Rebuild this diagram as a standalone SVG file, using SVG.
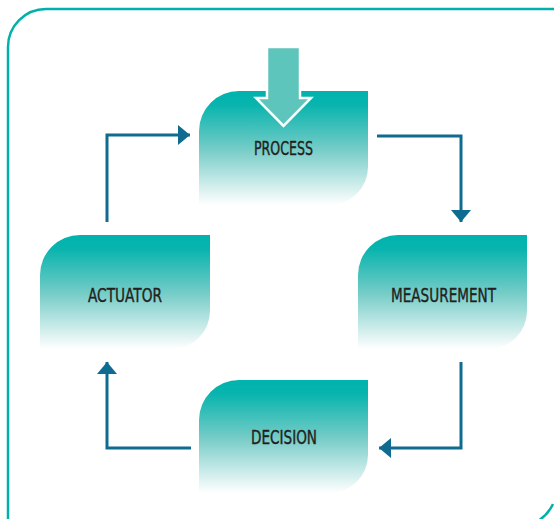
<svg xmlns="http://www.w3.org/2000/svg" width="554" height="519" viewBox="0 0 554 519">
<defs>
<linearGradient id="g" x1="0" y1="0" x2="0" y2="1">
<stop offset="0" stop-color="#00b3ad"/>
<stop offset="0.12" stop-color="#08b4ae"/>
<stop offset="0.5" stop-color="#72cbc6"/>
<stop offset="1" stop-color="#ffffff"/>
</linearGradient>
<marker id="ah" viewBox="0 0 12 20" refX="12" refY="10" markerWidth="12" markerHeight="20" markerUnits="userSpaceOnUse" orient="auto">
<path d="M0,0 L12,10 L0,20 Z" fill="#0f6c90"/>
</marker>
<style>
.node{fill:url(#g);}
.lbl{font-family:"Liberation Sans Narrow","DejaVu Sans Condensed","Liberation Sans",sans-serif;font-size:20px;fill:#231f20;stroke:#231f20;stroke-width:0.4;text-anchor:middle;}
.conn{fill:none;stroke:#0f6c90;stroke-width:3;marker-end:url(#ah);}
</style>
</defs>
<path d="M8,520 V47 A38,38 0 0 1 46,9 H556" fill="none" stroke="#00b0aa" stroke-width="2.5"/>
<path d="M553,504 A40,40 0 0 1 538,521" fill="none" stroke="#00b0aa" stroke-width="2.5"/>
<g id="connectors">
<path class="conn" d="M107,222 V135 H190"/>
<path class="conn" d="M377,136 H461 V222"/>
<path class="conn" d="M461,362 V448 H379"/>
<path class="conn" d="M191,448 H107 V362"/>
</g>
<g id="process">
<path class="node" d="M199,131 A40,40 0 0 1 239,91 H368 V167 A38,38 0 0 1 330,205 H199 Z"/>
<text class="lbl" x="283.5" y="155" textLength="59" lengthAdjust="spacingAndGlyphs">PROCESS</text>
</g>
<g id="input-arrow">
<path d="M267,47 H300 V98 H311 L283.5,126 L256,98 H267 Z" fill="#5ec5bd" stroke="#ffffff" stroke-width="2.5"/>
</g>
<g id="actuator">
<path class="node" d="M40,275 A40,40 0 0 1 80,235 H210 V311 A38,38 0 0 1 172,349 H40 Z"/>
<text class="lbl" x="125" y="302" textLength="74" lengthAdjust="spacingAndGlyphs">ACTUATOR</text>
</g>
<g id="measurement">
<path class="node" d="M358,275 A40,40 0 0 1 398,235 H527 V311 A38,38 0 0 1 489,349 H358 Z"/>
<text class="lbl" x="443.5" y="302" textLength="105" lengthAdjust="spacingAndGlyphs">MEASUREMENT</text>
</g>
<g id="decision">
<path class="node" d="M199,420 A40,40 0 0 1 239,380 H368 V455 A38,38 0 0 1 330,493 H199 Z"/>
<text class="lbl" x="284" y="444" textLength="66" lengthAdjust="spacingAndGlyphs">DECISION</text>
</g>
</svg>
